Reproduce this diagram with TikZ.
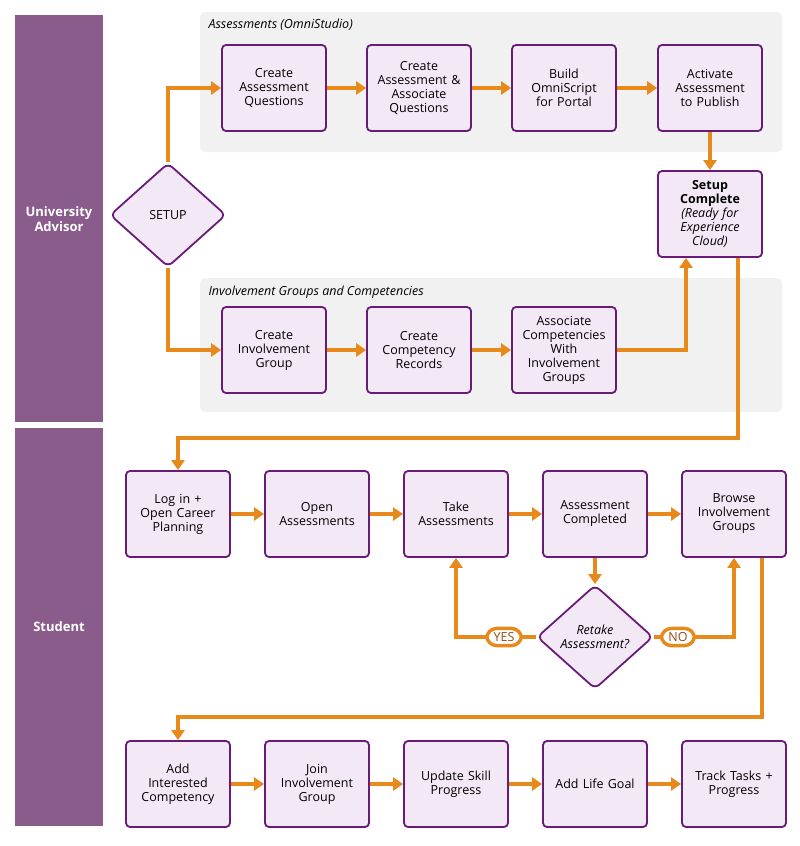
\documentclass[tikz,border=0pt]{standalone}
\usepackage{fontspec}
\setmainfont{Open Sans}
\usepackage{tikz}
\usetikzlibrary{arrows.meta,shapes.geometric,positioning}
\definecolor{lanepurple}{HTML}{8A5C8C}
\definecolor{boxfill}{HTML}{F3E9F6}
\definecolor{boxline}{HTML}{6A1B7A}
\definecolor{flow}{HTML}{E8891C}
\definecolor{panelgray}{HTML}{F1F1F2}
\definecolor{pilltext}{HTML}{9A4A10}
\tikzset{
  task/.style={draw=boxline, fill=boxfill, line width=1.8pt, rounded corners=4pt,
    minimum width=104pt, minimum height=86pt, align=center,
    font=\fontsize{12.5}{14}\selectfont, text width=98pt, inner xsep=2pt},
  decide/.style={draw=boxline, fill=boxfill, line width=1.8pt, diamond, rounded corners=6pt,
    minimum width=116pt, minimum height=104pt, align=center, inner sep=0pt,
    font=\fontsize{12.5}{14}\selectfont},
  flowline/.style={draw=flow, line width=3.6pt, -{Triangle[width=13pt,length=10pt]}},
  lane/.style={fill=lanepurple, draw=none},
  lanetext/.style={text=white, font=\bfseries\fontsize{13}{15}\selectfont, align=center},
  panel/.style={fill=panelgray, draw=none, rounded corners=5pt},
  paneltext/.style={anchor=west, font=\itshape\fontsize{12.5}{14}\selectfont},
  pill/.style={draw=flow, fill=white, line width=3.4pt, rounded corners=10pt,
    text=pilltext, font=\fontsize{12.5}{13}\selectfont, inner xsep=7pt, inner ysep=4pt}
}
\begin{document}
\begin{tikzpicture}[x=1pt,y=-1pt]
\useasboundingbox (0,0) rectangle (800,846);
% swim lanes
\fill[lane] (15,15) rectangle (103,422);
\fill[lane] (15,428) rectangle (103,826);
\node[lanetext] (advisor) at (59,219) {University\\Advisor};
\node[lanetext] (student) at (59,627) {Student};
% panels
\fill[panel] (200,12) rectangle (782,152);
\fill[panel] (200,278) rectangle (782,412);
\node[paneltext] (omni) at (205,25) {Assessments (OmniStudio)};
\node[paneltext] (groups) at (205,292) {Involvement Groups and Competencies};
% advisor steps
\node[decide] (setup) at (168,215) {SETUP};
\node[task] (questions) at (274,88) {Create\\Assessment\\Questions};
\node[task] (assoc) at (419,88) {Create\\Assessment \&\\Associate\\Questions};
\node[task] (script) at (564,88) {Build\\OmniScript\\for Portal};
\node[task] (activate) at (710,88) {Activate\\Assessment\\to Publish};
\node[task] (complete) at (710,214) {\textbf{Setup}\\\textbf{Complete}\\\textit{(Ready for}\\\textit{Experience}\\\textit{Cloud)}};
\node[task] (group) at (274,350) {Create\\Involvement\\Group};
\node[task] (records) at (419,350) {Create\\Competency\\Records};
\node[task] (link) at (564,350) {Associate\\Competencies\\With\\Involvement\\Groups};
% student steps
\node[task] (login) at (178,514) {Log in +\\Open Career\\Planning};
\node[task] (open) at (317,514) {Open\\Assessments};
\node[task] (take) at (456,514) {Take\\Assessments};
\node[task] (done) at (595,514) {Assessment\\Completed};
\node[task] (browse) at (734,514) {Browse\\Involvement\\Groups};
\node[decide, font=\itshape\fontsize{12.5}{14}\selectfont] (retake) at (595,637) {Retake\\Assessment?};
\node[task] (interest) at (178,784) {Add\\Interested\\Competency};
\node[task] (join) at (317,784) {Join\\Involvement\\Group};
\node[task] (skill) at (456,784) {Update Skill\\Progress};
\node[task] (goal) at (595,784) {Add Life Goal};
\node[task] (track) at (734,784) {Track Tasks +\\Progress};
% connectors
\draw[flowline] (setup.north) |- (questions.west);
\draw[flowline] (setup.south) |- (group.west);
\draw[flowline] (questions) -- (assoc);
\draw[flowline] (assoc) -- (script);
\draw[flowline] (script) -- (activate);
\draw[flowline] (activate) -- (complete);
\draw[flowline] (group) -- (records);
\draw[flowline] (records) -- (link);
\draw[flowline] (link.east) -| ([xshift=-24pt]complete.south);
\draw[flowline] ([xshift=28pt]complete.south) |- ++(0,180) -| (login.north);
\draw[flowline] (login) -- (open);
\draw[flowline] (open) -- (take);
\draw[flowline] (take) -- (done);
\draw[flowline] (done) -- (browse);
\draw[flowline] (done) -- (retake);
\draw[flowline] (retake.west) -| (take.south)
  node[pill, pos=0.2] (yes) {YES};
\draw[flowline] (retake.east) -| (browse.south)
  node[pill, pos=0.15] (no) {NO};
\draw[flowline] ([xshift=28pt]browse.south) |- ++(0,159) -| (interest.north);
\draw[flowline] (interest) -- (join);
\draw[flowline] (join) -- (skill);
\draw[flowline] (skill) -- (goal);
\draw[flowline] (goal) -- (track);
\end{tikzpicture}
\end{document}
